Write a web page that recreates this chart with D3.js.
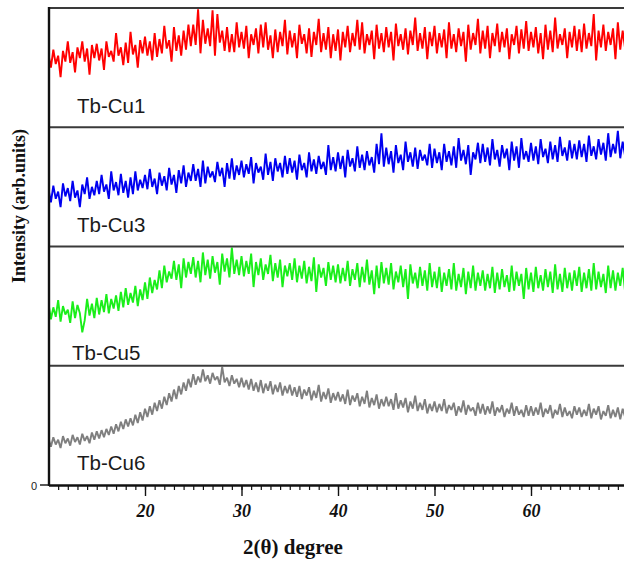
<!DOCTYPE html>
<html><head><meta charset="utf-8">
<script src="https://cdn.jsdelivr.net/npm/d3@7"></script>
<style>body{margin:0;background:#fff}svg{display:block}</style>
</head><body>
<script>
// ---- data (intensity in arb. units, 0-100 per panel) ----
const samples = ["Tb-Cu1", "Tb-Cu3", "Tb-Cu5", "Tb-Cu6"];
const colors = ["#ff0000", "#0000f0", "#1aee1a", "#7f7f7f"];
const twoThetaStart = 10, twoThetaStep = 0.25;
const xTicks = [20, 30, 40, 50, 60];

const cu1 = [
 61,50,65,53,60,42,64,55,72,54,63,46,67,58,72,55,66,44,69,58,
 70,56,66,48,72,59,64,55,79,60,67,52,71,54,80,61,69,50,73,62,
 76,60,72,56,79,59,74,62,85,66,73,55,84,64,77,60,81,65,86,68,
 86,69,99,62,90,70,83,68,98,60,95,71,81,64,84,63,78,63,88,67,
 80,66,85,58,78,69,83,62,86,67,88,65,77,58,82,63,80,68,90,61,
 81,67,79,58,86,70,78,62,83,59,80,69,91,63,79,65,84,58,78,64,
 82,56,80,67,85,63,79,68,90,65,88,62,78,69,81,57,86,66,79,63,
 84,67,80,56,87,68,78,65,83,61,81,69,92,64,79,66,84,57,80,68,
 85,62,79,67,82,58,88,66,78,63,83,68,80,55,86,65,79,69,91,62,
 81,66,85,58,79,68,87,63,80,67,83,57,78,69,85,62,82,66,89,64,
 80,67,84,62,79,57,86,65,81,63,92,66,78,69,83,58,80,67,85,64,
 82,63,87,66,79,68,95,56,81,67,86,64,80,69,83,57,88,65,81,66,
 79];
const cu3 = [
 48,37,51,40,46,33,53,42,49,38,55,41,47,33,52,44,58,40,50,43,
 55,44,60,46,52,40,63,47,54,43,61,45,55,41,58,44,63,47,56,49,
 60,48,65,50,57,44,62,51,59,47,66,52,60,45,64,53,68,50,62,55,
 69,55,65,50,72,53,67,58,63,54,71,59,66,50,70,57,74,56,68,60,
 72,58,69,61,75,53,70,62,67,56,78,60,71,55,74,63,70,58,76,61,
 74,62,72,56,77,64,70,58,79,63,73,61,76,65,71,60,85,64,75,63,
 79,65,76,58,81,67,74,63,84,66,77,64,80,68,75,62,86,69,95,67,
 83,69,80,62,85,70,77,64,88,71,79,67,83,65,81,72,77,68,86,66,
 82,70,79,64,86,71,80,68,84,66,91,72,81,69,85,60,79,73,87,70,
 86,71,83,68,90,73,81,67,85,74,82,64,88,72,84,66,91,73,80,71,
 87,72,84,69,90,75,82,70,88,73,85,71,92,76,83,72,89,74,86,73,
 89,75,86,71,93,76,84,73,90,77,87,72,95,75,86,78,97,74,88,76,
 90];
const cu5 = [
 52,39,49,41,55,37,50,43,47,36,54,40,51,44,28,38,56,42,52,40,
 57,43,55,45,60,44,56,48,59,46,62,49,65,51,61,53,67,50,64,55,
 70,56,74,61,72,64,80,65,84,70,79,73,88,72,85,65,90,74,87,77,
 91,74,88,70,95,76,89,73,92,78,87,68,94,79,90,74,99,77,89,76,
 92,75,88,77,94,66,87,76,90,72,85,77,93,71,86,74,89,66,84,75,
 86,72,90,70,84,73,88,69,83,71,91,62,85,74,82,67,87,72,84,70,
 85,69,82,71,88,67,81,72,86,66,83,70,89,68,80,60,84,65,87,69,
 82,68,86,64,79,70,84,66,81,56,85,69,78,65,83,67,80,63,86,66,
 79,65,83,62,78,67,81,64,86,63,77,66,82,60,79,65,84,63,78,67,
 80,63,77,65,83,61,78,64,81,66,76,62,84,63,79,67,77,56,82,64,
 78,62,83,65,76,63,81,66,79,61,85,64,77,62,82,65,78,63,80,67,
 83,62,78,65,81,63,86,64,79,66,77,61,84,65,80,63,78,67,82,62,
 79];
const cu6 = [
 39,32,40,34,38,31,41,35,39,33,42,36,40,34,43,37,41,35,44,38,
 45,39,46,40,47,42,49,43,51,45,53,47,55,49,56,50,59,52,61,54,
 64,57,66,59,69,62,71,64,74,67,77,70,80,72,83,76,86,79,89,82,
 93,84,91,86,97,87,92,85,94,88,91,84,99,86,90,83,92,85,89,82,
 90,82,88,80,89,79,86,78,88,77,85,79,87,76,84,78,86,75,83,77,
 84,75,82,74,83,72,80,75,82,71,79,73,84,70,78,72,81,69,77,71,
 78,70,76,68,80,67,75,70,77,66,74,68,79,65,73,67,76,64,72,66,
 74,66,72,63,77,64,71,65,73,61,70,64,75,62,69,63,72,60,68,62,
 70,61,68,62,72,60,67,63,69,58,66,61,71,59,67,62,65,58,69,60,
 68,59,66,60,70,58,65,61,67,57,64,60,69,58,66,59,63,57,67,58,
 66,58,65,59,69,57,64,60,67,56,63,59,68,57,65,58,62,56,66,59,
 65,57,63,58,68,56,64,59,66,55,62,58,67,56,63,57,65,55,64,57,
 63];
const seriesValues = [cu1, cu3, cu5, cu6];

// ---- drawing ----
const W = 624, H = 565;
const svg = d3.select("body").append("svg").attr("width", W).attr("height", H);

const x = d3.scaleLinear().domain([10, 70]).range([48.5, 627.5]);
const panel = d3.scaleBand().domain(samples).range([8, 485]);
const yIn = d3.scaleLinear().domain([0, 100]).range([panel.bandwidth(), 0]);

svg.append("defs").append("clipPath").attr("id", "plotclip")
  .append("rect").attr("x", 49).attr("y", 8).attr("width", W - 49).attr("height", 477);

const line = d3.line()
  .x((d, i) => x(twoThetaStart + i * twoThetaStep))
  .y(d => yIn(d));

const plot = svg.append("g").attr("clip-path", "url(#plotclip)");
samples.forEach((s, k) => {
  const g = plot.append("g").attr("transform", `translate(0,${panel(s)})`);
  g.append("path").datum(seriesValues[k])
    .attr("d", line)
    .attr("fill", "none")
    .attr("stroke", colors[k])
    .attr("stroke-width", 1.9)
    .attr("stroke-linejoin", "bevel");
});

// panel separators / top border
svg.selectAll("line.sep").data(samples).enter().append("line")
  .attr("class", "sep")
  .attr("x1", 49).attr("x2", W)
  .attr("y1", d => panel(d)).attr("y2", d => panel(d))
  .attr("stroke", "#3a3a3a").attr("stroke-width", 2);

// panel labels
const labelPos = [[77, 113], [77, 232], [72, 360], [77, 470]];
svg.selectAll("text.lab").data(samples).enter().append("text")
  .attr("class", "lab")
  .attr("x", (d, i) => labelPos[i][0])
  .attr("y", (d, i) => labelPos[i][1])
  .attr("font-family", "'Liberation Sans', Arial, sans-serif")
  .attr("font-size", 20.5)
  .attr("fill", "#1a1a1a")
  .text(d => d);

// x axis: minor ticks
svg.append("g").attr("transform", "translate(0,485)")
  .call(d3.axisBottom(x).tickValues(d3.range(11, 70)).tickSize(5).tickFormat(""))
  .call(g => g.select(".domain").remove())
  .call(g => g.selectAll(".tick line").attr("stroke", "#111").attr("stroke-width", 1.2));

// x axis: major ticks + labels
const xAxis = svg.append("g").attr("transform", "translate(0,485)")
  .call(d3.axisBottom(x).tickValues(xTicks).tickSize(11).tickSizeOuter(0).tickPadding(8).tickFormat(d3.format("d")));
xAxis.select(".domain").attr("stroke", "#111").attr("stroke-width", 2.4);
xAxis.selectAll(".tick line").attr("stroke", "#111").attr("stroke-width", 1.4);
xAxis.selectAll(".tick text")
  .attr("font-family", "'Liberation Serif', 'Times New Roman', serif")
  .attr("font-size", 18).attr("font-weight", "bold").attr("font-style", "italic")
  .attr("fill", "#111");

// y axis line + zero tick
svg.append("line").attr("x1", 49).attr("x2", 49).attr("y1", 7).attr("y2", 486)
  .attr("stroke", "#111").attr("stroke-width", 2.4);
svg.append("line").attr("x1", 40).attr("x2", 49).attr("y1", 485).attr("y2", 485)
  .attr("stroke", "#111").attr("stroke-width", 1.4);
svg.append("text").attr("x", 34).attr("y", 490).attr("text-anchor", "middle")
  .attr("font-family", "'Liberation Sans', Arial, sans-serif").attr("font-size", 11)
  .attr("fill", "#222").text("0");

// axis titles
svg.append("text")
  .attr("transform", "translate(25,206) rotate(-90)")
  .attr("text-anchor", "middle")
  .attr("font-family", "'Liberation Serif', 'Times New Roman', serif")
  .attr("font-size", 18).attr("font-weight", "bold").attr("fill", "#111")
  .text("Intensity (arb.units)");

svg.append("text")
  .attr("x", 293).attr("y", 554)
  .attr("text-anchor", "middle")
  .attr("font-family", "'Liberation Serif', 'Times New Roman', serif")
  .attr("font-size", 21).attr("font-weight", "bold").attr("fill", "#111")
  .text("2(θ) degree");
</script>
</body></html>
